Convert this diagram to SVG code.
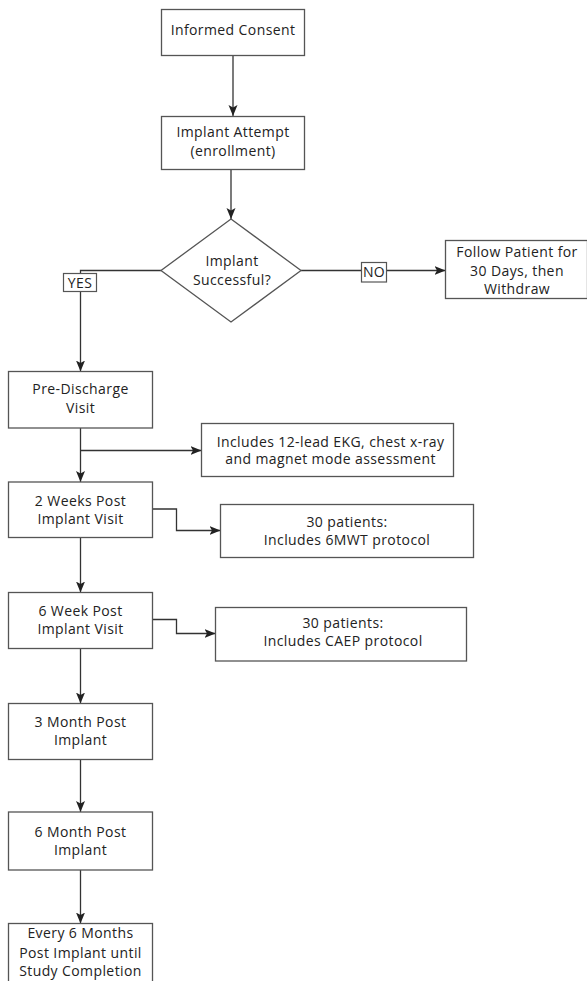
<svg xmlns="http://www.w3.org/2000/svg" width="587" height="981" viewBox="0 0 587 981">
<defs>
<marker id="arr" markerUnits="userSpaceOnUse" markerWidth="12" markerHeight="10" refX="11" refY="4.5" orient="auto">
<path d="M0,0 L11,4.5 L0,9 L2.5,4.5 Z" fill="#222"/>
</marker>
</defs>
<style>
.box{fill:#fff;stroke:#555;stroke-width:1.3}
.lbl{fill:#fff;stroke:#555;stroke-width:1.2}
.t{font-family:"Open Sans","Noto Sans",sans-serif;font-size:14px;letter-spacing:0.4px;fill:#222;text-anchor:middle}
.c{fill:none;stroke:#333;stroke-width:1.3}
.a{marker-end:url(#arr)}
</style>
<rect width="587" height="981" fill="#fff"/>
<g id="connectors">
<path class="c a" d="M233,55 V116"/>
<path class="c a" d="M231,169 V219"/>
<path class="c a" d="M161,270.5 H80.5 V371.5"/>
<path class="c a" d="M301,270.5 H445.5"/>
<path class="c a" d="M80.5,428 V482"/>
<path class="c a" d="M80.5,450.5 H201.5"/>
<path class="c a" d="M152.5,509 H176.5 V530.5 H220.5"/>
<path class="c a" d="M80.5,537.5 V592.5"/>
<path class="c a" d="M152.5,619.5 H176.5 V633.5 H215.5"/>
<path class="c a" d="M80.5,648.5 V703.5"/>
<path class="c a" d="M80.5,759.5 V812"/>
<path class="c a" d="M80.5,870 V923.5"/>
<g id="label-yes"><rect class="lbl" x="63.5" y="273.5" width="33" height="18"/><text class="t" x="80" y="287.5">YES</text></g>
<g id="label-no"><rect class="lbl" x="361.5" y="262.5" width="25" height="19.5"/><text class="t" x="374" y="277">NO</text></g>
</g>
<g id="n-consent"><rect class="box" x="161.5" y="9.5" width="143" height="46"/><text class="t" x="233" y="35">Informed Consent</text></g>
<g id="n-attempt"><rect class="box" x="161.5" y="116.5" width="143" height="53"/><text class="t" x="233" y="137">Implant Attempt</text><text class="t" x="233" y="156">(enrollment)</text></g>
<g id="n-decision"><polygon class="box" points="231,219 301,270.5 231,322 161,270.5"/><text class="t" x="232" y="266">Implant</text><text class="t" x="232" y="285">Successful?</text></g>
<g id="n-withdraw"><rect class="box" x="445.5" y="240.5" width="142" height="58"/><text class="t" x="517" y="257">Follow Patient for</text><text class="t" x="517" y="276">30 Days, then</text><text class="t" x="517" y="294">Withdraw</text></g>
<g id="n-predischarge"><rect class="box" x="8.5" y="371.5" width="144" height="56.5"/><text class="t" x="80.5" y="394">Pre-Discharge</text><text class="t" x="80.5" y="413">Visit</text></g>
<g id="n-ekg"><rect class="box" x="201.5" y="423.5" width="252" height="53"/><text class="t" x="330.5" y="446.5">Includes 12-lead EKG, chest x-ray</text><text class="t" x="330.5" y="464">and magnet mode assessment</text></g>
<g id="n-2weeks"><rect class="box" x="8.5" y="482" width="144" height="55.5"/><text class="t" x="80.5" y="505.5">2 Weeks Post</text><text class="t" x="80.5" y="524">Implant Visit</text></g>
<g id="n-6mwt"><rect class="box" x="220.5" y="504.5" width="253" height="53"/><text class="t" x="347" y="527">30 patients:</text><text class="t" x="347" y="545">Includes 6MWT protocol</text></g>
<g id="n-6week"><rect class="box" x="8.5" y="592.5" width="144" height="56"/><text class="t" x="80.5" y="615.5">6 Week Post</text><text class="t" x="80.5" y="634">Implant Visit</text></g>
<g id="n-caep"><rect class="box" x="215.5" y="607.5" width="251" height="53.5"/><text class="t" x="343" y="628">30 patients:</text><text class="t" x="343" y="645.5">Includes CAEP protocol</text></g>
<g id="n-3month"><rect class="box" x="8.5" y="703.5" width="144" height="56"/><text class="t" x="80.5" y="726.5">3 Month Post</text><text class="t" x="80.5" y="745">Implant</text></g>
<g id="n-6month"><rect class="box" x="8.5" y="812" width="144" height="58"/><text class="t" x="80.5" y="836.5">6 Month Post</text><text class="t" x="80.5" y="855">Implant</text></g>
<g id="n-every"><rect class="box" x="8.5" y="923.5" width="144" height="70"/><text class="t" x="80.5" y="938">Every 6 Months</text><text class="t" x="80.5" y="957.5">Post Implant until</text><text class="t" x="80.5" y="975.5">Study Completion</text></g>
</svg>
